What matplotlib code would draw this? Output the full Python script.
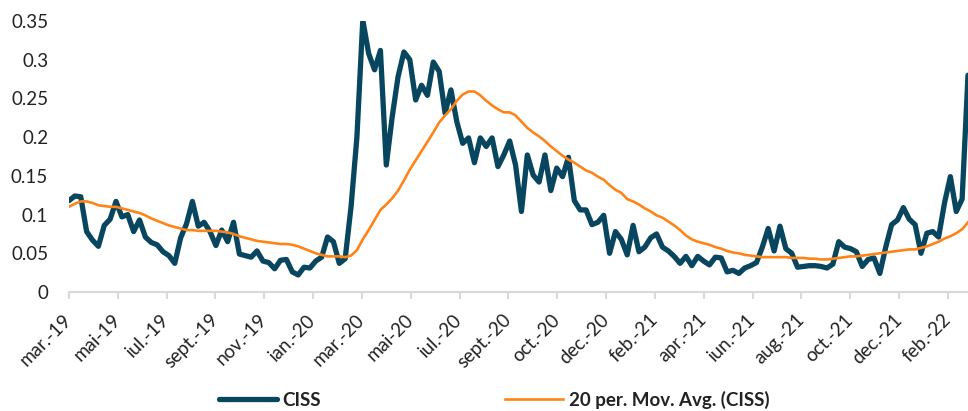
import numpy as np
import matplotlib
matplotlib.use("Agg")
import matplotlib.pyplot as plt

# weekly CISS readings, mar 2019 -> feb 2022
ciss = [0.118, 0.124, 0.123, 0.078, 0.067, 0.059, 0.086, 0.094, 0.117, 0.097,
        0.100, 0.078, 0.093, 0.071, 0.064, 0.061, 0.052, 0.047, 0.037, 0.070,
        0.088, 0.117, 0.085, 0.090, 0.078, 0.060, 0.080, 0.065, 0.090, 0.049,
        0.047, 0.045, 0.053, 0.040, 0.038, 0.030, 0.041, 0.042, 0.026, 0.022,
        0.032, 0.031, 0.040, 0.045, 0.071, 0.065, 0.037, 0.043, 0.110, 0.200,
        0.351, 0.308, 0.287, 0.312, 0.164, 0.226, 0.278, 0.310, 0.300, 0.248,
        0.267, 0.254, 0.297, 0.285, 0.231, 0.261, 0.220, 0.192, 0.199, 0.167,
        0.199, 0.188, 0.199, 0.162, 0.177, 0.195, 0.164, 0.104, 0.177, 0.151,
        0.142, 0.177, 0.131, 0.160, 0.149, 0.174, 0.118, 0.106, 0.106, 0.087,
        0.090, 0.099, 0.050, 0.078, 0.068, 0.048, 0.086, 0.052, 0.058, 0.070,
        0.075, 0.058, 0.053, 0.046, 0.037, 0.046, 0.034, 0.046, 0.040, 0.035,
        0.045, 0.044, 0.026, 0.028, 0.024, 0.031, 0.034, 0.038, 0.058, 0.082,
        0.053, 0.085, 0.056, 0.050, 0.032, 0.033, 0.034, 0.034, 0.033, 0.031,
        0.036, 0.065, 0.058, 0.056, 0.052, 0.033, 0.042, 0.044, 0.024, 0.058,
        0.087, 0.093, 0.109, 0.094, 0.087, 0.050, 0.076, 0.078, 0.071, 0.115,
        0.149, 0.104, 0.120, 0.280]

# 20 period moving average as drawn in the chart
ma20 = [0.110, 0.114, 0.117, 0.117, 0.115, 0.112, 0.111, 0.110, 0.110, 0.108,
        0.106, 0.104, 0.102, 0.099, 0.095, 0.092, 0.089, 0.086, 0.084, 0.082,
        0.080, 0.080, 0.079, 0.079, 0.079, 0.079, 0.078, 0.077, 0.075, 0.072,
        0.070, 0.068, 0.066, 0.065, 0.064, 0.063, 0.062, 0.062, 0.061, 0.059,
        0.056, 0.053, 0.050, 0.048, 0.046, 0.046, 0.046, 0.045, 0.047, 0.054,
        0.068, 0.080, 0.093, 0.106, 0.113, 0.121, 0.131, 0.144, 0.158, 0.170,
        0.182, 0.194, 0.206, 0.219, 0.228, 0.236, 0.247, 0.255, 0.259, 0.259,
        0.254, 0.247, 0.241, 0.236, 0.232, 0.232, 0.228, 0.220, 0.212, 0.206,
        0.201, 0.195, 0.188, 0.182, 0.176, 0.171, 0.167, 0.162, 0.157, 0.154,
        0.149, 0.145, 0.138, 0.132, 0.128, 0.120, 0.117, 0.113, 0.108, 0.104,
        0.099, 0.096, 0.091, 0.086, 0.080, 0.073, 0.068, 0.065, 0.063, 0.061,
        0.058, 0.056, 0.053, 0.051, 0.050, 0.048, 0.047, 0.046, 0.045, 0.045,
        0.045, 0.045, 0.045, 0.044, 0.044, 0.044, 0.043, 0.043, 0.042, 0.042,
        0.043, 0.044, 0.045, 0.046, 0.046, 0.047, 0.048, 0.049, 0.050, 0.051,
        0.052, 0.053, 0.054, 0.055, 0.055, 0.057, 0.059, 0.062, 0.065, 0.069,
        0.072, 0.076, 0.081, 0.090]

tick_labels = ["mar.-19", "mai-19", "iul.-19", "sept.-19", "nov.-19", "ian.-20",
               "mar.-20", "mai-20", "iul.-20", "sept.-20", "oct.-20", "dec.-20",
               "feb.-21", "apr.-21", "iun.-21", "aug.-21", "oct.-21", "dec.-21",
               "feb.-22"]

plt.rcParams['font.family'] = ['Lato', 'DejaVu Sans']

x = np.arange(len(ciss))

fig = plt.figure(figsize=(9.68, 4.11), dpi=100)
ax = fig.add_axes([69 / 968, 119 / 411, 899 / 968, 271 / 411])

ax.plot(x, ciss, color='#08455E', lw=3.8, solid_joinstyle='round',
        solid_capstyle='round', label='CISS')
ax.plot(x, ma20, color='#FF8417', lw=1.9, label='20 per. Mov. Avg. (CISS)')

ax.set_xlim(0, len(ciss) - 1)
ax.set_ylim(0, 0.35)

# labels sit every ~8.3 weeks, evenly spaced like in the source
step = (len(ciss) - 1) / (899 / 48.83)
ax.set_xticks(np.arange(len(tick_labels)) * step)
ax.set_xticklabels(tick_labels, rotation=45, ha='right', va='center',
                   rotation_mode='anchor')
ax.set_yticks(np.arange(0, 0.36, 0.05))
ax.set_yticklabels(['0', '0.05', '0.1', '0.15', '0.2', '0.25', '0.3', '0.35'])

for s in ['top', 'right', 'left']:
    ax.spines[s].set_visible(False)
ax.spines['bottom'].set_color('#D9D9D9')
ax.spines['bottom'].set_linewidth(1.5)
ax.tick_params(axis='y', length=0, pad=15, labelsize=13.5, labelcolor='#222222')
ax.tick_params(axis='x', length=5, width=1.5, color='#D9D9D9', pad=13,
               labelsize=13.5, labelcolor='#222222')

leg = fig.legend(loc='center', bbox_to_anchor=(494 / 968, 11 / 411), ncol=2,
                 frameon=False, handlelength=3.1, handletextpad=0.3,
                 columnspacing=9.8, prop={'weight': 'bold', 'size': 13.5})
for t in leg.get_texts():
    t.set_color('#222222')

fig.savefig('out.png', dpi=100)
